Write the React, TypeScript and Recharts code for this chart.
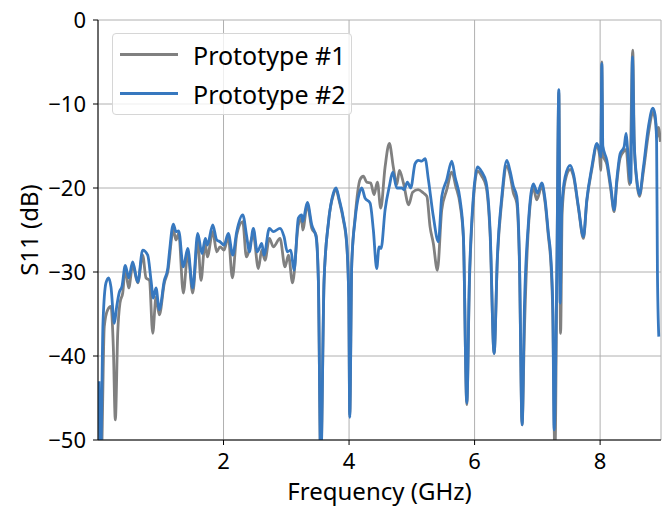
import {
  CartesianGrid,
  Label,
  Legend,
  Line,
  LineChart,
  XAxis,
  YAxis,
} from "recharts";

// Prototype #1 (gray) measured S11
const freqP1 = [
  0.016, 0.05, 0.1, 0.154, 0.207, 0.244, 0.276, 0.314, 0.35, 0.394,
  0.435, 0.489, 0.553, 0.633, 0.712, 0.765, 0.82, 0.872, 0.924, 0.977,
  1.057, 1.111, 1.2, 1.243, 1.286, 1.359, 1.43, 1.509, 1.589, 1.641,
  1.705, 1.742, 1.828, 1.892, 1.944, 2.008, 2.076, 2.141, 2.21, 2.306,
  2.364, 2.475, 2.555, 2.609, 2.661, 2.73, 2.794, 2.9, 2.98, 3.034,
  3.1, 3.192, 3.246, 3.262, 3.335, 3.406, 3.474, 3.511, 3.549, 3.602,
  3.67, 3.75, 3.793, 3.845, 3.909, 3.963, 3.995, 4.011, 4.043, 4.096,
  4.175, 4.228, 4.281, 4.345, 4.398, 4.451, 4.505, 4.574, 4.642, 4.705,
  4.76, 4.802, 4.866, 4.95, 5.013, 5.1, 5.184, 5.24, 5.29, 5.343,
  5.407, 5.477, 5.557, 5.637, 5.7, 5.769, 5.822, 5.876, 5.917, 5.981,
  6.045, 6.115, 6.183, 6.247, 6.311, 6.363, 6.434, 6.513, 6.566, 6.618,
  6.672, 6.714, 6.757, 6.794, 6.857, 6.937, 6.99, 7.071, 7.124, 7.176,
  7.214, 7.246, 7.28, 7.31, 7.342, 7.37, 7.395, 7.442, 7.522, 7.575,
  7.654, 7.734, 7.788, 7.868, 7.948, 7.989, 8.011, 8.027, 8.043, 8.107,
  8.17, 8.223, 8.266, 8.319, 8.382, 8.414, 8.47, 8.52, 8.545, 8.585,
  8.626, 8.69, 8.77, 8.84, 8.89, 8.905, 8.93, 8.96,
];
const s11P1 = [
  -45.0, -53.0, -36.5, -34.5, -34.1, -38.9, -47.6, -37.3, -33.7, -32.5,
  -29.6, -31.9, -29.2, -31.3, -28.0, -30.7, -31.0, -37.3, -33.0, -35.1,
  -31.3, -30.0, -25.0, -26.2, -25.4, -32.5, -27.8, -32.5, -26.2, -31.0,
  -26.5, -28.2, -25.2, -27.6, -27.0, -27.4, -25.8, -30.7, -25.6, -24.0,
  -28.2, -25.6, -29.6, -27.4, -28.6, -26.0, -27.0, -26.0, -29.4, -28.0,
  -31.3, -24.4, -23.6, -25.0, -22.0, -24.8, -25.6, -31.0, -53.0, -31.0,
  -24.2, -20.8, -20.2, -21.6, -23.8, -26.8, -33.0, -47.0, -29.0, -23.5,
  -19.0, -18.6, -19.3, -19.4, -20.8, -19.3, -22.4, -17.5, -14.7, -17.5,
  -19.6, -17.9, -19.4, -22.0, -20.5, -20.2, -20.6, -21.0, -24.6, -26.6,
  -29.8, -22.6, -20.2, -18.1, -19.8, -22.0, -26.0, -45.8, -31.5, -21.5,
  -18.0, -18.6, -19.8, -25.5, -39.7, -28.5, -21.5, -17.4, -18.5, -20.6,
  -21.8, -28.8, -48.2, -37.0, -24.8, -20.0, -21.4, -19.8, -21.8, -25.8,
  -28.8, -35.0, -52.0, -31.0, -8.6, -37.3, -23.0, -19.2, -17.8, -18.6,
  -22.4, -26.0, -21.6, -17.8, -15.0, -16.0, -17.9, -5.0, -16.0, -17.2,
  -20.2, -22.8, -19.4, -16.4, -15.6, -15.4, -19.6, -3.6, -15.0, -19.3,
  -21.0, -18.0, -13.5, -11.0, -12.5, -14.0, -12.8, -14.5,
];

// Prototype #2 (blue) measured S11
const freqP2 = [
  0.016, 0.04, 0.08, 0.127, 0.17, 0.207, 0.26, 0.298, 0.34, 0.382,
  0.435, 0.489, 0.553, 0.633, 0.712, 0.792, 0.845, 0.881, 0.924, 0.977,
  1.057, 1.111, 1.136, 1.2, 1.243, 1.286, 1.359, 1.43, 1.509, 1.589,
  1.657, 1.71, 1.742, 1.828, 1.892, 1.944, 2.008, 2.076, 2.147, 2.21,
  2.306, 2.37, 2.411, 2.475, 2.539, 2.609, 2.645, 2.73, 2.794, 2.9,
  2.964, 3.017, 3.071, 3.124, 3.192, 3.246, 3.262, 3.335, 3.406, 3.474,
  3.511, 3.549, 3.602, 3.67, 3.75, 3.793, 3.845, 3.909, 3.963, 3.995,
  4.011, 4.043, 4.096, 4.164, 4.202, 4.255, 4.335, 4.387, 4.441, 4.478,
  4.51, 4.574, 4.642, 4.696, 4.76, 4.84, 4.876, 4.929, 4.983, 5.052,
  5.104, 5.158, 5.211, 5.264, 5.343, 5.423, 5.477, 5.557, 5.637, 5.689,
  5.769, 5.822, 5.876, 5.917, 5.981, 6.045, 6.115, 6.183, 6.247, 6.311,
  6.363, 6.434, 6.513, 6.566, 6.618, 6.672, 6.714, 6.757, 6.794, 6.857,
  6.937, 7.001, 7.071, 7.124, 7.176, 7.214, 7.246, 7.267, 7.31, 7.342,
  7.363, 7.39, 7.442, 7.522, 7.575, 7.654, 7.734, 7.788, 7.868, 7.948,
  7.989, 8.011, 8.027, 8.043, 8.107, 8.17, 8.223, 8.266, 8.319, 8.382,
  8.414, 8.435, 8.489, 8.515, 8.542, 8.585, 8.626, 8.69, 8.77, 8.84,
  8.876, 8.9, 8.913, 8.935,
];
const s11P2 = [
  -43.0, -53.0, -36.0, -31.3, -30.7, -31.8, -36.1, -34.1, -32.4, -31.7,
  -29.2, -30.7, -28.8, -31.2, -27.4, -28.0, -31.0, -33.1, -31.9, -34.5,
  -31.0, -29.6, -27.8, -24.3, -25.2, -25.1, -29.4, -27.2, -31.9, -25.4,
  -27.8, -26.0, -26.8, -24.4, -26.2, -26.4, -26.8, -25.4, -28.0, -25.2,
  -23.2, -25.8, -27.6, -24.8, -27.6, -26.6, -28.0, -24.8, -25.2, -24.8,
  -25.8, -27.6, -27.4, -29.8, -23.6, -23.2, -24.0, -21.7, -24.4, -25.8,
  -31.0, -53.0, -31.0, -24.2, -20.6, -20.0, -21.4, -23.6, -26.6, -33.0,
  -47.3, -29.0, -23.8, -20.6, -20.0, -21.2, -21.8, -25.0, -29.6, -27.0,
  -27.2, -22.6, -19.8, -18.1, -20.0, -20.0, -20.2, -19.3, -20.0, -17.1,
  -16.7, -16.8, -16.5, -19.0, -23.4, -26.4, -21.0, -19.0, -16.8, -18.7,
  -21.4, -25.8, -45.6, -31.0, -21.0, -17.5, -18.1, -19.3, -25.0, -39.7,
  -28.2, -21.0, -16.7, -18.0, -19.8, -21.0, -28.2, -48.2, -34.1, -24.2,
  -19.5, -20.6, -19.4, -21.4, -25.4, -28.2, -34.1, -48.8, -30.1, -8.3,
  -33.7, -22.2, -18.7, -17.3, -18.3, -22.2, -25.8, -21.4, -17.5, -14.7,
  -15.5, -16.3, -5.2, -15.0, -16.7, -19.8, -22.6, -19.0, -15.9, -15.1,
  -13.5, -15.1, -19.4, -4.4, -14.3, -19.0, -20.8, -17.5, -12.7, -10.5,
  -11.3, -14.5, -29.8, -37.7,
];

const xTicks = [2, 4, 6, 8];
const yTicks = [0, -10, -20, -30, -40, -50];
const seriesNames = ["Prototype #1", "Prototype #2"];
const seriesColors = ["#808080", "#3778bf"];

const dataP1 = freqP1.map((f, i) => ({ f, s11: s11P1[i] }));
const dataP2 = freqP2.map((f, i) => ({ f, s11: s11P2[i] }));

const FONT = "'Noto Sans', 'DejaVu Sans', sans-serif";

const LegendBox = () => (
  <div
    style={{
      width: 240,
      height: 82,
      boxSizing: "border-box",
      background: "rgba(255,255,255,0.8)",
      border: "1px solid #d6d6d6",
      borderRadius: 4,
      padding: "0 0 0 7px",
      fontFamily: FONT,
      fontSize: 25,
      color: "#000",
    }}
  >
    {seriesNames.map((name, i) => (
      <div
        key={name}
        style={{ display: "flex", alignItems: "center", height: 39, marginTop: i === 0 ? 1 : 0 }}
      >
        <span
          style={{
            display: "inline-block",
            width: 58,
            height: 3,
            background: seriesColors[i],
            marginRight: 15,
          }}
        />
        <span>{name}</span>
      </div>
    ))}
  </div>
);

const minus = (v: number) => String(v).replace("-", "\u2212");

export default function App() {
  return (
    <div style={{ position: "absolute", left: 0, top: 0, background: "#fff" }}>
      <LineChart
        width={667}
        height={507}
        margin={{ top: 20, right: 6, bottom: 0, left: 0 }}
      >
        <CartesianGrid stroke="#b0b0b0" strokeWidth={1} />
        <XAxis
          type="number"
          dataKey="f"
          domain={[0, 8.97]}
          ticks={xTicks}
          allowDataOverflow
          height={67}
          tickSize={5}
          tickMargin={8}
          stroke="#000"
          tick={{ fill: "#000", fontSize: 22, fontFamily: FONT }}
        >
          <Label
            value="Frequency (GHz)"
            position="insideBottom"
            offset={7}
            style={{ fill: "#000", fontSize: 24, fontFamily: FONT }}
          />
        </XAxis>
        <XAxis
          xAxisId="top"
          orientation="top"
          type="number"
          domain={[0, 8.97]}
          height={0}
          tick={false}
          tickLine={false}
          stroke="#000"
        />
        <YAxis
          type="number"
          domain={[-50, 0]}
          ticks={yTicks}
          allowDataOverflow
          width={98}
          tickSize={5}
          tickMargin={7}
          stroke="#000"
          tickFormatter={minus}
          tick={{ fill: "#000", fontSize: 22, fontFamily: FONT }}
        >
          <Label
            value="S11 (dB)"
            angle={-90}
            position="insideLeft"
            offset={29}
            style={{ fill: "#000", fontSize: 24, fontFamily: FONT, textAnchor: "middle" }}
          />
        </YAxis>
        <YAxis
          yAxisId="right"
          orientation="right"
          type="number"
          domain={[-50, 0]}
          width={0}
          tick={false}
          tickLine={false}
          stroke="#000"
        />
        <Legend
          layout="vertical"
          align="center"
          verticalAlign="middle"
          wrapperStyle={{ left: 112, top: 33, width: 240, margin: 0 }}
          content={<LegendBox />}
        />
        <Line
          data={dataP1}
          dataKey="s11"
          name={seriesNames[0]}
          type="monotone"
          stroke={seriesColors[0]}
          strokeWidth={2.8}
          dot={false}
          activeDot={false}
          isAnimationActive={false}
        />
        <Line
          data={dataP2}
          dataKey="s11"
          name={seriesNames[1]}
          type="monotone"
          stroke={seriesColors[1]}
          strokeWidth={2.8}
          dot={false}
          activeDot={false}
          isAnimationActive={false}
        />
      </LineChart>
    </div>
  );
}
